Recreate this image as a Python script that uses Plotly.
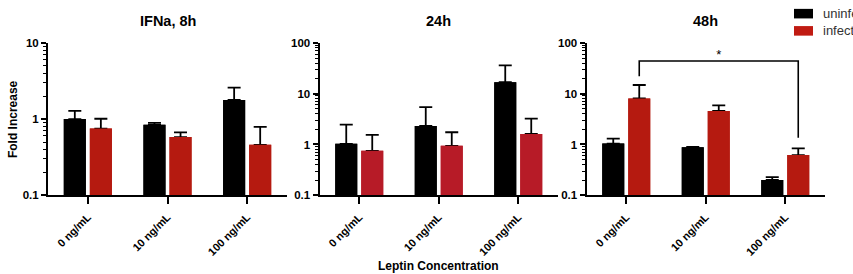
import plotly.graph_objects as go

# ---------------- data ----------------
categories = ["0 ng/mL", "10 ng/mL", "100 ng/mL"]
panel_titles = ["IFNa, 8h", "24h", "48h"]
series_names = ["uninfected", "infected"]

# bar heights (mean fold increase) and upper end of the error bar
uninf_8h = [1.0, 0.84, 1.78]
uninf_8h_top = [1.28, 0.89, 2.58]
inf_8h = [0.75, 0.58, 0.46]
inf_8h_top = [1.01, 0.67, 0.79]

uninf_24h = [1.03, 2.31, 16.8]
uninf_24h_top = [2.45, 5.45, 36.0]
inf_24h = [0.75, 0.94, 1.61]
inf_24h_top = [1.55, 1.74, 3.23]

uninf_48h = [1.04, 0.88, 0.20]
uninf_48h_top = [1.30, 0.90, 0.228]
inf_48h = [8.05, 4.57, 0.62]
inf_48h_top = [14.8, 5.9, 0.84]

# significance bracket on the 48h panel (infected 0 vs 100 ng/mL)
sig_pair = [0, 2]
sig_left_foot = 22
sig_top = 44
sig_right_foot = 1.36
sig_star_y = 55
sig_label = "*"

y_log_ranges = [[-1, 1], [-1, 2], [-1, 2]]
y_tickvals = [[0.1, 1, 10], [0.1, 1, 10, 100], [0.1, 1, 10, 100]]
y_ticktext = [["0.1", "1", "10"], ["0.1", "1", "10", "100"], ["0.1", "1", "10", "100"]]

# ---------------- style ----------------
FONT = "Liberation Sans, Arial, sans-serif"
BLACK = "#000000"
RED_COLORS = ["#B51A10", "#B71B27", "#B51A10"]
LEGEND_RED = "#C01B12"
BARGAP = 0.346
BARGROUPGAP = 0.154
W, H = 853, 274

x_domains = [[48 / W, 287 / W], [319.5 / W, 558 / W], [586.5 / W, 825 / W]]
y_domain = [1 - 198 / H, 1 - 38.5 / H]

data = [
    (uninf_8h, uninf_8h_top, inf_8h, inf_8h_top),
    (uninf_24h, uninf_24h_top, inf_24h, inf_24h_top),
    (uninf_48h, uninf_48h_top, inf_48h, inf_48h_top),
]
xidx = list(range(len(categories)))

fig = go.Figure()

def err(vals, tops):
    return dict(type="data", symmetric=False,
                array=[t - v for v, t in zip(vals, tops)],
                arrayminus=[0] * len(vals),
                color="black", thickness=1.8, width=6.5)

def axes(p):
    return ("x" if p == 0 else f"x{p+1}"), ("y" if p == 0 else f"y{p+1}")

# pass A: bars carrying the error bars
for p, (u, ut, i, it) in enumerate(data):
    xa, ya = axes(p)
    fig.add_trace(go.Bar(x=xidx, y=u, marker=dict(color=BLACK, line=dict(width=0)),
                         error_y=err(u, ut), offsetgroup="u", xaxis=xa, yaxis=ya,
                         name=series_names[0], hoverinfo="skip"))
    fig.add_trace(go.Bar(x=xidx, y=i, marker=dict(color=RED_COLORS[p], line=dict(width=0)),
                         error_y=err(i, it), offsetgroup="i", xaxis=xa, yaxis=ya,
                         name=series_names[1], hoverinfo="skip"))
# pass B: same bars drawn on top (hides the error bar foot)
for p, (u, ut, i, it) in enumerate(data):
    xa, ya = axes(p)
    fig.add_trace(go.Bar(x=xidx, y=u, marker=dict(color=BLACK, line=dict(width=0)),
                         offsetgroup="u", xaxis=xa, yaxis=ya, name=series_names[0]))
    fig.add_trace(go.Bar(x=xidx, y=i, marker=dict(color=RED_COLORS[p], line=dict(width=0)),
                         offsetgroup="i", xaxis=xa, yaxis=ya, name=series_names[1]))

# significance bracket
off = (1 - BARGAP) / 4
bx = [sig_pair[0] + off, sig_pair[0] + off, sig_pair[1] + off, sig_pair[1] + off]
by = [sig_left_foot, sig_top, sig_top, sig_right_foot]
fig.add_trace(go.Scatter(x=bx, y=by, mode="lines", line=dict(color="black", width=1.6),
                         xaxis="x3", yaxis="y3", hoverinfo="skip"))
fig.add_trace(go.Scatter(x=[(bx[0] + bx[2]) / 2], y=[sig_star_y], mode="text", text=[sig_label],
                         textfont=dict(family=FONT, size=13, color="black"),
                         xaxis="x3", yaxis="y3", hoverinfo="skip"))

layout = dict(
    width=W, height=H, margin=dict(l=0, r=0, t=0, b=0),
    paper_bgcolor="white", plot_bgcolor="white",
    barmode="group", bargap=BARGAP, bargroupgap=BARGROUPGAP,
    font=dict(family=FONT, color="black"),
    showlegend=False,
)
for p in range(3):
    sfx = "" if p == 0 else str(p + 1)
    layout[f"xaxis{sfx}"] = dict(
        domain=x_domains[p], anchor=f"y{sfx}", range=[-0.5, 2.5],
        tickmode="array", tickvals=xidx, ticktext=categories, tickangle=-45,
        ticks="outside", ticklen=7, tickwidth=2, tickcolor="black", ticklabelstandoff=2,
        showline=True, linewidth=2, linecolor="black",
        showgrid=False, zeroline=False,
        tickfont=dict(family=FONT, size=11, color="black", weight="bold"),
    )
    layout[f"yaxis{sfx}"] = dict(
        domain=y_domain, anchor=f"x{sfx}", type="log", range=y_log_ranges[p],
        tickmode="array", tickvals=y_tickvals[p], ticktext=y_ticktext[p],
        ticks="outside", ticklen=5, tickwidth=2, tickcolor="black",
        minor=dict(ticks="outside", ticklen=3, tickwidth=1, tickcolor="black", dtick="D1", showgrid=False),
        showline=True, linewidth=2, linecolor="black",
        showgrid=False, zeroline=False,
        tickfont=dict(family=FONT, size=11.5, color="black", weight="bold"),
    )
fig.update_layout(**layout)

annotations = []
for p in range(3):
    cx = (x_domains[p][0] + x_domains[p][1]) / 2
    annotations.append(dict(text=panel_titles[p], x=cx, y=1 - 16 / H, xref="paper", yref="paper",
                            xanchor="center", yanchor="middle", showarrow=False,
                            font=dict(family=FONT, size=14.5, color="black", weight="bold")))
annotations.append(dict(text="Fold Increase", x=13 / W, y=(y_domain[0] + y_domain[1]) / 2,
                        xref="paper", yref="paper", textangle=-90, showarrow=False,
                        xanchor="center", yanchor="middle",
                        font=dict(family=FONT, size=12, color="black", weight="bold")))
annotations.append(dict(text="Leptin Concentration", x=438 / W, y=1 - 262 / H,
                        xref="paper", yref="paper", showarrow=False,
                        xanchor="center", yanchor="top",
                        font=dict(family=FONT, size=12, color="black", weight="bold")))

# legend (drawn manually so it runs off the right edge like the reference)
legend_colors = [BLACK, LEGEND_RED]
shapes = []
for k, (nm, col) in enumerate(zip(series_names, legend_colors)):
    top = 3 + 18 * k
    shapes.append(dict(type="rect", xref="paper", yref="paper",
                       x0=794 / W, x1=813 / W, y0=1 - (top + 10) / H, y1=1 - top / H,
                       fillcolor=col, line=dict(width=0)))
    annotations.append(dict(text=nm, x=821 / W, y=1 - (top + 5) / H, xref="paper", yref="paper",
                            xanchor="left", yanchor="middle", showarrow=False,
                            font=dict(family=FONT, size=13, color="#333")))
fig.update_layout(annotations=annotations, shapes=shapes)

fig.write_html("out.html")
